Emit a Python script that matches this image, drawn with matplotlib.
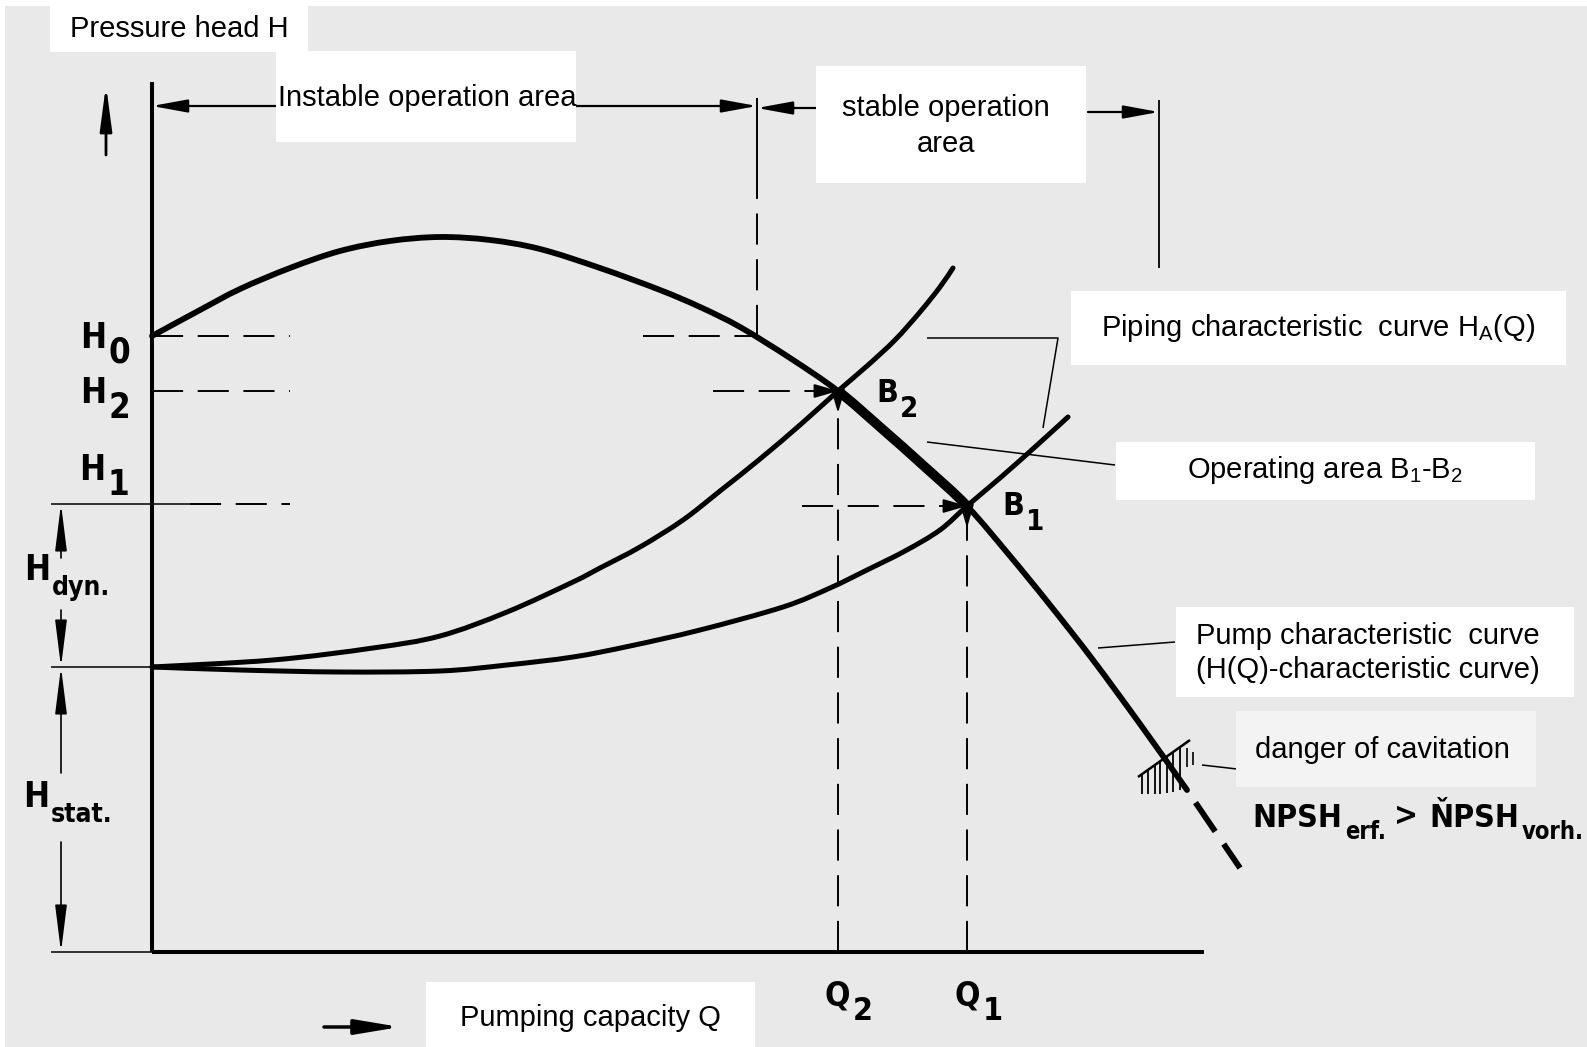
import matplotlib
matplotlib.use('Agg')
import numpy as np
import matplotlib.pyplot as plt
from matplotlib.patches import Rectangle, PathPatch
from matplotlib.path import Path
from matplotlib import font_manager
from matplotlib.font_manager import FontProperties

# ---------------- data (Q = pumping capacity, H = pressure head, drawing units) -------------
pump_Q = [0, 48, 88, 138, 188, 238, 288, 338, 388, 448, 508, 548, 588, 638, 686,
          728, 773, 815, 858, 898, 941, 988, 1035]
pump_H = [616, 642, 663, 684, 701, 711, 715, 712, 703, 684, 662, 645, 625, 594, 561,
          525, 485, 446, 396, 347, 292, 228, 162]
pump_dash_Q = [1035, 1088]
pump_dash_H = [162, 84]

pipe1_Q = [0, 121, 221, 288, 355, 421, 448, 488, 531, 568, 608, 648, 686, 715, 743, 768, 788, 801]
pipe1_H = [285, 292, 304, 316, 340, 370, 384, 405, 432, 461, 493, 527, 561, 586, 612, 640, 665, 684]

pipe2_Q = [0, 88, 188, 288, 355, 421, 478, 548, 631, 678, 715, 753, 788, 815, 848, 883, 916]
pipe2_H = [285, 282, 280, 281, 287, 295, 306, 322, 345, 364, 382, 401, 422, 446, 474, 505, 535]

B2 = (686, 561)
B1 = (815, 446)
H0_level = 616
H1_level = 448
Hstat_level = 285
Q_stable_start = 605
Q_stable_end = 1007

hatch_Q = [990, 996, 1003, 1008, 1015, 1021, 1028]
hatch_top = [178, 182, 187, 191, 196, 200, 205]
hatch_bottom = [158, 158, 158, 158, 159, 160, 162]

# ---------------- figure ----------------
fig = plt.figure(figsize=(15.87, 10.47), dpi=100)
ax = fig.add_axes([0, 0, 1, 1])
ax.set_xlim(-152, 1587 - 152)
ax.set_ylim(952 - 1047, 952)
ax.axis('off')
fig.patch.set_facecolor('white')

# condensed bold font if one is installed, otherwise Liberation Sans bold
best = None
for f in font_manager.fontManager.ttflist:
    nm = f.name.lower()
    st = str(f.stretch).lower()
    if ('narrow' in nm or 'condensed' in nm or 'condensed' in st):
        w = f.weight if isinstance(f.weight, int) else (700 if 'bold' in str(f.weight) else 400)
        score = (1 if w >= 600 else 0, 1 if f.style == 'normal' else 0)
        if best is None or score > best[0]:
            best = (score, f.fname)
if best is not None and best[0][1] == 1:
    cond_fp = FontProperties(fname=best[1])
    CS = 1.0
else:
    cond_fp = FontProperties(family='Liberation Sans', weight='bold')
    CS = 0.88

SANS = 'Liberation Sans'
plt.rcParams['mathtext.fontset'] = 'custom'
plt.rcParams['mathtext.rm'] = SANS
plt.rcParams['mathtext.it'] = SANS + ':italic'
plt.rcParams['mathtext.bf'] = SANS + ':bold'

BG = '#e9e9e9'
ax.add_patch(Rectangle((-147, -95), 1582, 1041, facecolor=BG, edgecolor='none', zorder=0))

K = 'black'


def line(q, h, lw=1.1, z=2, **kw):
    ax.plot(q, h, color=K, lw=lw, solid_capstyle='butt', solid_joinstyle='round', zorder=z, **kw)


def smooth(q, h, lw, z=3, i0=0, i1=None, capstyle='round'):
    pts = np.column_stack([q, h]).astype(float)
    n = len(pts)
    if i1 is None:
        i1 = n - 1
    verts = [pts[i0]]
    codes = [Path.MOVETO]
    for i in range(i0, i1):
        p0 = pts[i - 1] if i > 0 else pts[i]
        p1 = pts[i]
        p2 = pts[i + 1]
        p3 = pts[i + 2] if i + 2 < n else pts[i + 1]
        verts += [p1 + (p2 - p0) / 6.0, p2 - (p3 - p1) / 6.0, p2]
        codes += [Path.CURVE4] * 3
    ax.add_patch(PathPatch(Path(verts, codes), fill=False, edgecolor=K, lw=lw,
                           capstyle=capstyle, joinstyle='round', zorder=z))


def dashed(q, h, lw=1.4, z=2):
    ax.plot(q, h, color=K, lw=lw, dashes=(16, 7.5), dash_capstyle='butt', zorder=z)


def arrow(tail, tip, lw=1.5, hl=1.2, hw=0.22, ms=18, z=2):
    ax.annotate('', xy=tip, xytext=tail, zorder=z,
                arrowprops=dict(arrowstyle=f'-|>,head_length={hl},head_width={hw}',
                                mutation_scale=ms, lw=lw, color=K, shrinkA=0, shrinkB=0))


# axes
line([0, 0], [0, 870], lw=2.9)
line([0, 1052], [0, 0], lw=2.9)
line([-101, 0], [0, 0], lw=1.1)
line([-101, 0], [Hstat_level, Hstat_level], lw=1.1)
line([-101, 38], [H1_level, H1_level], lw=1.1)

# curves
smooth(pump_Q, pump_H, lw=4.2)
iB2 = pump_Q.index(B2[0]); iB1 = pump_Q.index(B1[0])
smooth(pump_Q, pump_H, lw=7.0, i0=iB2, i1=iB1, capstyle='butt')
ax.plot(pump_dash_Q, pump_dash_H, color=K, lw=4.2, linestyle=(6, (6, 2.6)),
        dash_capstyle='butt', zorder=3)
smooth(pipe1_Q, pipe1_H, lw=3.6)
smooth(pipe2_Q, pipe2_H, lw=3.6)

# reference dashed lines
dashed([0, 138], [H0_level, H0_level])
dashed([0, 138], [B2[1], B2[1]])
dashed([38, 138], [H1_level, H1_level])
dashed([491, Q_stable_start], [H0_level, H0_level])
dashed([561, B2[0]], [B2[1], B2[1]])
dashed([650, B1[0]], [B1[1], B1[1]])
dashed([B2[0], B2[0]], [0, B2[1]])
dashed([B1[0], B1[0]], [0, B1[1]])
line([Q_stable_start, Q_stable_start], [754, 854], lw=1.4)
dashed([Q_stable_start, Q_stable_start], [H0_level, 754])
line([Q_stable_end, Q_stable_end], [684, 852], lw=1.3)

# small arrowheads at operating points
for (qb, hb) in (B2, B1):
    arrow((qb - 24, hb), (qb, hb), lw=1.4, hl=1.2, hw=0.35, ms=12, z=4)
    arrow((qb, hb - 4), (qb, hb - 22), lw=1.4, hl=1.2, hw=0.35, ms=12, z=4)

# dimension arrows at top
arrow((124, 846), (0, 846), lw=1.6)
arrow((424, 846), (Q_stable_start, 846), lw=1.6)
arrow((664, 844), (Q_stable_start, 844), lw=1.6)
arrow((936, 840), (Q_stable_end, 840), lw=1.6)
arrow((-46, 797), (-46, 867), lw=2.0, hl=1.5, hw=0.2)
# H_dyn / H_stat
arrow((-91, 394), (-91, H1_level), lw=1.2, hl=1.6, hw=0.2)
arrow((-91, 342), (-91, Hstat_level), lw=1.2, hl=1.6, hw=0.2)
arrow((-91, 179), (-91, Hstat_level), lw=1.2, hl=1.6, hw=0.2)
arrow((-91, 110), (-91, 0), lw=1.2, hl=1.6, hw=0.2)
# pumping capacity arrow
arrow((172, -75), (248, -75), lw=2.5, hl=1.5, hw=0.25, ms=18)

# leaders
line([775, 906, 891], [614, 614, 524], lw=1.1)
line([775, 963], [510, 487], lw=1.1)
line([946, 1023], [304, 310], lw=1.1)
line([1050, 1085], [187, 183], lw=1.1)

# cavitation hatch
line([986, 1038], [175, 212], lw=1.8, z=3)
for q, t, b in zip(hatch_Q, hatch_top, hatch_bottom):
    line([q, q], [b, t], lw=1.3, z=3)
line([1035, 1035], [185, 204], lw=1.2, z=3)
line([1041, 1041], [187, 200], lw=1.2, z=3)

# white label boxes
boxes = [(-102, 900, 258, 46, 'white'), (124, 810, 300, 91, 'white'),
         (664, 769, 270, 117, 'white'), (919, 587, 495, 74, 'white'),
         (964, 452, 419, 58, 'white'), (1024, 255, 398, 90, 'white'),
         (1084, 165, 300, 76, '#f3f3f3'), (274, -95, 329, 65, 'white')]
for (x0, y0, w, h, c) in boxes:
    ax.add_patch(Rectangle((x0, y0), w, h, facecolor=c, edgecolor='none', zorder=5))

FS = 21
tk = dict(fontsize=FS, family=SANS, color=K, zorder=6)
ax.text(27, 923, 'Pressure head H', ha='center', va='center', **tk)
ax.text(126, 854, 'Instable operation area', ha='left', va='center', **tk)
ax.text(794, 826, 'stable operation\narea', ha='center', va='center', linespacing=1.4, **tk)
ax.text(1166, 624, r'Piping characteristic  curve H$_{\mathregular{A}}$(Q)', ha='center', va='center', **tk)
ax.text(1173, 482, r'Operating area B$_{\mathregular{1}}$-B$_{\mathregular{2}}$', ha='center', va='center', **tk)
ax.text(1216, 299, 'Pump characteristic  curve\n(H(Q)-characteristic curve)', ha='center', va='center',
        linespacing=1.3, **tk)
ax.text(1230, 202, 'danger of cavitation', ha='center', va='center', **tk)
ax.text(438, -66, 'Pumping capacity Q', ha='center', va='center', **tk)


# condensed bold labels: base letter + subscript chained to its right edge
def fprop(size):
    fp = cond_fp.copy()
    fp.set_size(size * CS)
    return fp


def cond_text(q, h, t, size):
    return ax.text(q, h, t, fontproperties=fprop(size), color=K, ha='left', va='baseline', zorder=6)


def sub_label(q, h, base, sub, size, subsize, dx=1.5, dy=-5.5):
    b = cond_text(q, h, base, size)
    return ax.annotate(sub, xy=(1, 0), xycoords=b, xytext=(dx, dy), textcoords='offset points',
                       fontproperties=fprop(subsize), color=K, ha='left', va='baseline', zorder=6)


labels = [('H', '0', -72, 604, 25, 25), ('H', '2', -72, 549, 25, 25),
          ('H', '1', -73, 472, 25, 25), ('H', 'dyn.', -128, 372, 25, 19),
          ('H', 'stat.', -129, 145, 25, 19), ('B', '2', 724, 550, 23, 21),
          ('B', '1', 850, 437, 23, 21), ('Q', '2', 673, -53, 24, 23),
          ('Q', '1', 803, -53, 24, 23)]
for (base, sub, q, h, s1, s2) in labels:
    sub_label(q, h, base, sub, s1, s2)

# NPSH condition, chained left to right
s1 = sub_label(1100, 125, 'NPSH', 'erf.', 23, 17, dx=2, dy=-3.5)
gt = ax.annotate('>', xy=(1, 127), xycoords=(s1, 'data'), xytext=(6, 0), textcoords='offset points',
                 fontproperties=fprop(23), color=K, ha='left', va='baseline', zorder=6)
n2 = ax.annotate('ŇPSH', xy=(1, 125), xycoords=(gt, 'data'), xytext=(8, 0), textcoords='offset points',
                 fontproperties=fprop(23), color=K, ha='left', va='baseline', zorder=6)
ax.annotate('vorh.', xy=(1, 0), xycoords=n2, xytext=(2, -3.5), textcoords='offset points',
            fontproperties=fprop(17), color=K, ha='left', va='baseline', zorder=6)

fig.savefig('out.png', dpi=100, facecolor='white')
